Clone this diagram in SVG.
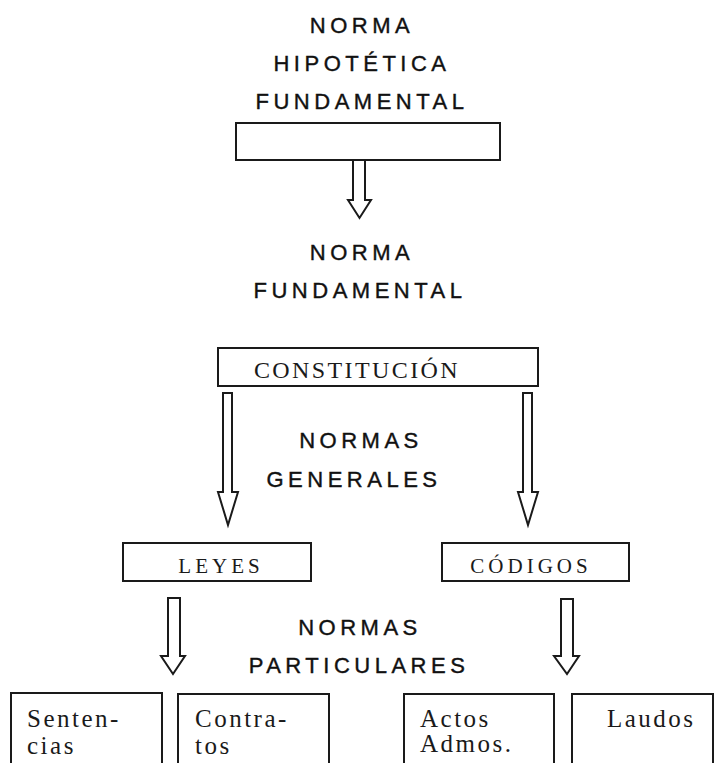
<svg xmlns="http://www.w3.org/2000/svg" width="715" height="763" viewBox="0 0 715 763">
<style>
.bg{fill:#ffffff}
.box{fill:#ffffff;stroke:#1a1a1a;stroke-width:2}
.arr{fill:#ffffff;stroke:#1a1a1a;stroke-width:2;stroke-linejoin:miter}
.sans{font-family:"Liberation Sans",Arial,sans-serif;font-size:22px;letter-spacing:4.5px;fill:#111;stroke:#111;stroke-width:0.4px;text-anchor:middle}
.serif{font-family:"Liberation Serif","Times New Roman",serif;fill:#1a1a1a}
.bl{font-size:24px;letter-spacing:2.4px;text-anchor:middle}
.md{font-size:21px;letter-spacing:4px;text-anchor:middle}
.sm{font-size:25px;letter-spacing:2.5px}
</style>
<rect class="bg" x="0" y="0" width="715" height="763"/>
<g id="labels">
<text class="sans" x="362" y="33">NORMA</text>
<text class="sans" x="362" y="71">HIPOTÉTICA</text>
<text class="sans" x="362" y="109">FUNDAMENTAL</text>
<text class="sans" x="362" y="260">NORMA</text>
<text class="sans" x="360" y="298">FUNDAMENTAL</text>
<text class="sans" x="361" y="448">NORMAS</text>
<text class="sans" x="354" y="487">GENERALES</text>
<text class="sans" x="360" y="635">NORMAS</text>
<text class="sans" x="359" y="673">PARTICULARES</text>
</g>
<g id="node-hipotetica">
<rect class="box" x="236" y="123" width="264" height="37"/>
</g>
<g id="node-constitucion">
<rect class="box" x="218" y="348" width="320" height="38"/>
<text class="serif bl" x="357" y="378">CONSTITUCIÓN</text>
</g>
<g id="node-leyes">
<rect class="box" x="123" y="543" width="188" height="38"/>
<text class="serif md" x="221" y="573">LEYES</text>
</g>
<g id="node-codigos">
<rect class="box" x="442" y="543" width="187" height="38"/>
<text class="serif md" x="531" y="573">CÓDIGOS</text>
</g>
<g id="node-sentencias">
<rect class="box" x="11" y="693" width="151" height="90"/>
<text class="serif sm" x="27" y="727">Senten-</text>
<text class="serif sm" x="27" y="754">cias</text>
</g>
<g id="node-contratos">
<rect class="box" x="178" y="694" width="151" height="90"/>
<text class="serif sm" x="195" y="727">Contra-</text>
<text class="serif sm" x="195" y="754">tos</text>
</g>
<g id="node-actos">
<rect class="box" x="404" y="694" width="150" height="90"/>
<text class="serif sm" x="420" y="727">Actos</text>
<text class="serif sm" x="420" y="752">Admos.</text>
</g>
<g id="node-laudos">
<rect class="box" x="572" y="694" width="141" height="90"/>
<text class="serif sm" x="607" y="727">Laudos</text>
</g>
<g id="connectors">
<polygon class="arr" points="353,160 353,200 348,200 359.5,218 371,200 365,200 365,160"/>
<polygon class="arr" points="223,393 232,393 232,492 238,492 228,525 218,492 223,492"/>
<polygon class="arr" points="523,393 532,393 532,492 538,492 528,525 518,492 523,492"/>
<polygon class="arr" points="168,598 180,598 180,656 185,656 173,674 161,656 168,656"/>
<polygon class="arr" points="561,599 573,599 573,656 579,656 567,674 554,656 561,656"/>
</g>
</svg>
